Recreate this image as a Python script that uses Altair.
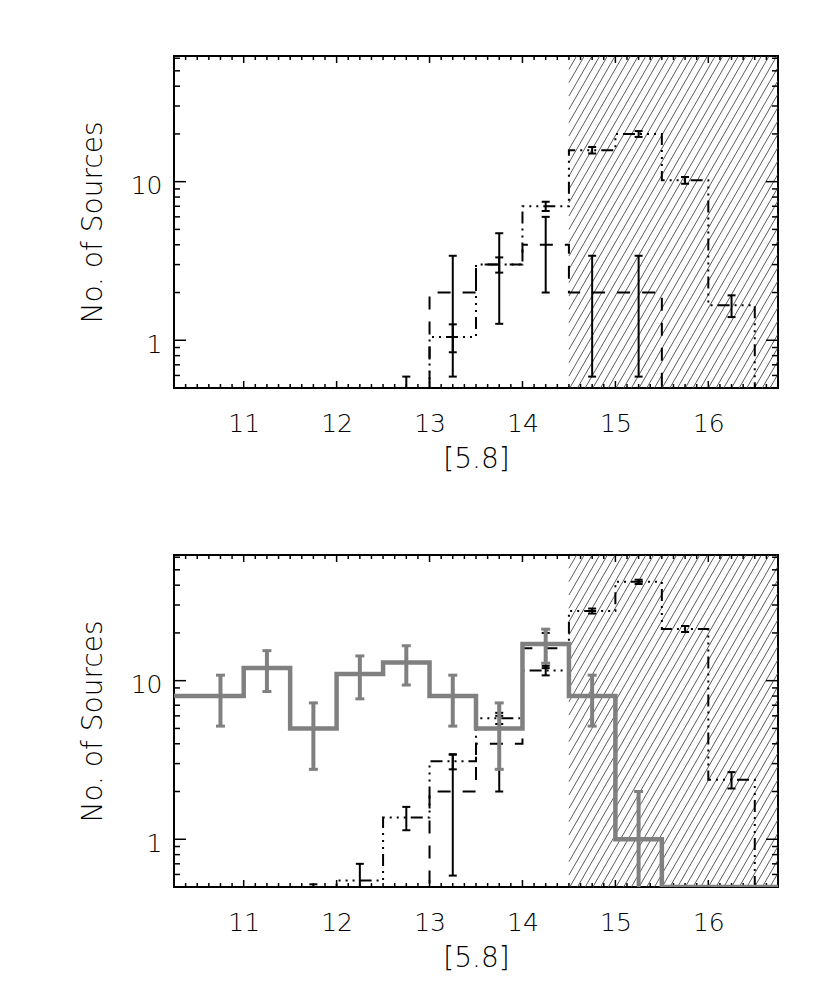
import math
import altair as alt
import numpy as np
import pandas as pd

# ---------------- data ----------------
# top panel
top_dash_centers = [12.75, 13.25, 13.75, 14.25, 14.75, 15.25, 15.75]
top_dash_values = [0, 2, 3, 4, 2, 2, 0]
top_dash_errors = [0, 1.41, 1.73, 2.0, 1.41, 1.41, 0]

top_model_centers = [12.75, 13.25, 13.75, 14.25, 14.75, 15.25, 15.75, 16.25, 16.75]
top_model_values = [0.45, 1.05, 3.0, 7.0, 15.8, 20.0, 10.2, 1.66, 0]
top_model_errors = [0.14, 0.21, 0.33, 0.47, 0.75, 0.85, 0.5, 0.26, 0]

# bottom panel
bot_grey_centers = [10.25, 10.75, 11.25, 11.75, 12.25, 12.75, 13.25, 13.75,
                    14.25, 14.75, 15.25, 15.75, 16.25, 16.75]
bot_grey_values = [8, 8, 12, 5, 11, 13, 8, 5, 17, 8, 1, 0, 0, 0]
bot_grey_errors = [0, 2.83, 3.46, 2.24, 3.32, 3.61, 2.83, 2.24, 4.12, 2.83, 1.0, 0, 0, 0]

bot_dash_centers = [12.75, 13.25, 13.75, 14.25]
bot_dash_values = [0, 2, 4, 16]
bot_dash_errors = [0, 1.41, 2.0, 4.0]

bot_model_centers = [11.75, 12.25, 12.75, 13.25, 13.75, 14.25, 14.75, 15.25,
                     15.75, 16.25, 16.75]
bot_model_values = [0.4, 0.55, 1.37, 3.1, 5.8, 11.6, 27.5, 42.0, 21.2, 2.37, 0]
bot_model_errors = [0.12, 0.15, 0.23, 0.34, 0.47, 0.8, 1.0, 1.3, 0.9, 0.28, 0]

x_tick_labels = [11, 12, 13, 14, 15, 16]
y_tick_labels = [1, 10]
y_minor_ticks = [0.6, 0.7, 0.8, 0.9, 2, 3, 4, 5, 6, 7, 8, 9, 20, 30, 40, 50, 60]
x_minor_step = 0.125

x_domain = [10.25, 16.75]
y_domain = [0.5, 62.0]
hatch_start = 14.5
bin_width = 0.5

# ---------------- styling ----------------
W, H = 604, 332
FONT = "DejaVu Sans"
GREY = "#808080"
DASH = [13, 12]
DASH3DOT = [12, 5, 2, 5, 2, 5, 2, 5]

xscale = alt.Scale(domain=x_domain, nice=False, zero=False)
yscale = alt.Scale(type="log", domain=y_domain, nice=False)
XAXIS = alt.Axis(values=x_tick_labels, format="d", title="[5.8]",
                 labelPadding=23, titleY=71, titleBaseline="middle",
                 labelFlush=False, labelOverlap=False)
YAXIS = alt.Axis(values=y_tick_labels, format="d", title="No. of Sources",
                 labelPadding=12, labelOffset=4, titleX=-81, titleY=H / 2,
                 titleBaseline="middle", labelFlush=False, labelOverlap=False)


def X(field):
    return alt.X(field, scale=xscale, axis=XAXIS, title="[5.8]")


def Y(field):
    return alt.Y(field, scale=yscale, axis=YAXIS, title="No. of Sources")


def step_frame(centers, values):
    rows = []
    k = 0
    for c, v in zip(centers, values):
        y = max(v, y_domain[0])
        rows.append({"x": c - bin_width / 2, "y": y, "k": k})
        k += 1
        rows.append({"x": c + bin_width / 2, "y": y, "k": k})
        k += 1
    return pd.DataFrame(rows)


def err_frame(centers, values, errors):
    rows = []
    for c, v, e in zip(centers, values, errors):
        if e > 0:
            lo = v - e
            if lo <= 0:
                lo = y_domain[0] / 10
            rows.append({"x": c, "lo": lo, "hi": v + e})
    return pd.DataFrame(rows)


def step_layer(centers, values, color, width, dash=None):
    kw = dict(color=color, strokeWidth=width, clip=True)
    if dash:
        kw["strokeDash"] = dash
    return alt.Chart(step_frame(centers, values)).mark_line(**kw).encode(
        x=X("x:Q"), y=Y("y:Q"), order=alt.Order("k:Q"))


def err_layers(centers, values, errors, color, width, cap_w, cap_t):
    base = alt.Chart(err_frame(centers, values, errors))
    bar = base.mark_rule(color=color, strokeWidth=width, clip=True).encode(
        x=X("x:Q"), y=Y("lo:Q"), y2="hi:Q")
    cap_lo = base.mark_tick(orient="horizontal", color=color, size=cap_w,
                            thickness=cap_t, opacity=1, clip=True).encode(
        x=X("x:Q"), y=Y("lo:Q"))
    cap_hi = base.mark_tick(orient="horizontal", color=color, size=cap_w,
                            thickness=cap_t, opacity=1, clip=True).encode(
        x=X("x:Q"), y=Y("hi:Q"))
    return [bar, cap_lo, cap_hi]


def hatch_layer():
    px_per_x = W / (x_domain[1] - x_domain[0])
    angle = math.radians(60)
    run = (H / math.tan(angle)) / px_per_x
    step = 7.7 / px_per_x
    rows = []
    x0 = hatch_start - run
    while x0 < x_domain[1]:
        fa = max(0.0, (hatch_start - x0) / run)
        fb = min(1.0, (x_domain[1] - x0) / run)
        if fb > fa:
            rows.append({
                "xa": x0 + run * fa, "xb": x0 + run * fb,
                "ya": y_domain[0] * (y_domain[1] / y_domain[0]) ** fa,
                "yb": y_domain[0] * (y_domain[1] / y_domain[0]) ** fb,
            })
        x0 += step
    return alt.Chart(pd.DataFrame(rows)).mark_rule(
        color="#4a4a4a", strokeWidth=0.9, clip=True).encode(
        x=X("xa:Q"), x2="xb:Q", y=Y("ya:Q"), y2="yb:Q")


def tick_layers():
    x_minor = [round(v, 4) for v in np.arange(x_domain[0] + x_minor_step,
                                              x_domain[1] - 1e-6, x_minor_step)
               if abs(v - round(v)) > 1e-6]
    xmaj = pd.DataFrame({"v": x_tick_labels})
    xmin = pd.DataFrame({"v": x_minor})
    ymaj = pd.DataFrame({"v": y_tick_labels})
    ymin = pd.DataFrame({"v": y_minor_ticks})
    layers = []
    for df, ln in [(xmaj, 7), (xmin, 4)]:
        for y1, y2 in [(0, ln), (H - ln, H)]:
            layers.append(alt.Chart(df).mark_rule(color="black", strokeWidth=1.5).encode(
                x=X("v:Q"), y=alt.value(y1), y2=alt.value(y2)))
    for df, ln in [(ymaj, 12), (ymin, 6)]:
        for x1, x2 in [(0, ln), (W - ln, W)]:
            layers.append(alt.Chart(df).mark_rule(color="black", strokeWidth=1.5).encode(
                y=Y("v:Q"), x=alt.value(x1), x2=alt.value(x2)))
    return layers


top_layers = [hatch_layer()] + tick_layers() + [
    step_layer(top_dash_centers, top_dash_values, "black", 2, DASH),
    step_layer(top_model_centers, top_model_values, "black", 2, DASH3DOT),
] + err_layers(top_dash_centers, top_dash_values, top_dash_errors, "black", 2, 8, 2) \
  + err_layers(top_model_centers, top_model_values, top_model_errors, "black", 2, 8, 2)

bot_layers = [hatch_layer()] + tick_layers() + [
    step_layer(bot_dash_centers, bot_dash_values, "black", 2, DASH),
    step_layer(bot_model_centers, bot_model_values, "black", 2, DASH3DOT),
] + err_layers(bot_dash_centers, bot_dash_values, bot_dash_errors, "black", 2, 8, 2) \
  + err_layers(bot_model_centers, bot_model_values, bot_model_errors, "black", 2, 8, 2) \
  + [step_layer(bot_grey_centers, bot_grey_values, GREY, 4.5)] \
  + err_layers(bot_grey_centers, bot_grey_values, bot_grey_errors, GREY, 4, 9, 3)

top = alt.layer(*top_layers).properties(width=W, height=H)
bot = alt.layer(*bot_layers).properties(width=W, height=H)

chart = alt.vconcat(top, bot, spacing=167, bounds="flush").properties(
    padding={"left": 70, "top": 46, "right": 5, "bottom": 5}
).configure_view(
    stroke="black", strokeWidth=2
).configure_axis(
    labelFont=FONT, labelFontSize=25, labelColor="black", labelFontWeight=200,
    titleFont=FONT, titleFontSize=28, titleFontWeight=200, titleColor="black",
    domain=False, ticks=False, tickSize=0, grid=False
)

chart.save("out.html", embed_options={"renderer": "svg", "actions": False})
